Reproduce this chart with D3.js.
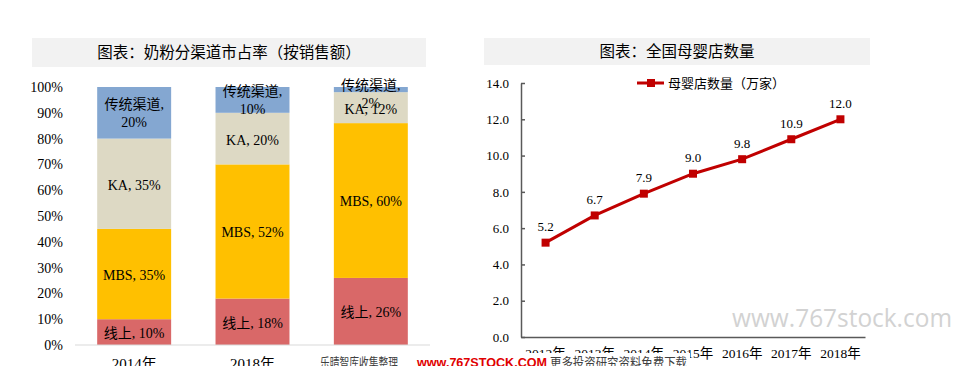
<!DOCTYPE html>
<html><head><meta charset="utf-8">
<script src="https://cdn.jsdelivr.net/npm/d3@7"></script>
<style>
html,body{margin:0;padding:0;background:#fff;}
svg{display:block;}
text{font-family:"Liberation Serif","Noto Sans CJK SC",serif;}
</style></head>
<body>
<svg id="c" width="953" height="366"></svg>
<script>
// ---- Left chart data ----
const leftTitle = "图表：奶粉分渠道市占率（按销售额）";
const years = ["2014年", "2018年", "2020年E"];
const channels = ["线上", "MBS", "KA", "传统渠道"];
const online = [10, 18, 26];
const mbs = [35, 52, 60];
const ka = [35, 20, 12];
const traditional = [20, 10, 2];
const pctTicks = [0, 10, 20, 30, 40, 50, 60, 70, 80, 90, 100];
const channelColors = ["#d96868", "#ffc000", "#ddd9c4", "#84a7d1"];

// ---- Right chart data ----
const rightTitle = "图表：全国母婴店数量";
const storeYears = ["2012年", "2013年", "2014年", "2015年", "2016年", "2017年", "2018年"];
const storeCount = [5.2, 6.7, 7.9, 9.0, 9.8, 10.9, 12.0];
const storeTicks = [0, 2, 4, 6, 8, 10, 12, 14];
const legendLabel = "母婴店数量（万家）";

const svg = d3.select("#c");

// ================= LEFT =================
svg.append("rect").attr("x", 32).attr("y", 38).attr("width", 394).attr("height", 29).attr("fill", "#f2f2f2");
svg.append("text").attr("x", 229).attr("y", 53).attr("dy", "0.35em").attr("text-anchor", "middle")
  .style("font-size", "15.5px").style("fill", "#000").text(leftTitle);

const x1 = d3.scaleBand().domain(years).range([75, 430]).paddingInner(0.375).paddingOuter(0.1875);
const y1 = d3.scaleLinear().domain([0, 100]).range([345, 87]);

const series = [online, mbs, ka, traditional];
const rows = years.map((yr, i) => {
  const r = { year: yr };
  channels.forEach((c, j) => r[c] = series[j][i]);
  return r;
});
const stacked = d3.stack().keys(channels)(rows);

const gBars = svg.append("g");
stacked.forEach((layer, j) => {
  gBars.selectAll(null).data(layer).enter().append("rect")
    .attr("x", d => x1(d.data.year))
    .attr("width", x1.bandwidth())
    .attr("y", d => y1(d[1]))
    .attr("height", d => y1(d[0]) - y1(d[1]))
    .attr("fill", channelColors[j]);
});

// baseline
svg.append("line").attr("x1", 75).attr("x2", 430).attr("y1", y1(0)).attr("y2", y1(0))
  .attr("stroke", "#d9d9d9").attr("stroke-width", 1);

// y tick labels
svg.append("g").selectAll("text").data(pctTicks).enter().append("text")
  .attr("x", 63).attr("y", d => y1(d)).attr("dy", "0.35em").attr("text-anchor", "end")
  .style("font-size", "14px").style("fill", "#000").text(d => d + "%");

// x labels
svg.append("g").selectAll("text").data(years).enter().append("text")
  .attr("x", d => x1(d) + x1.bandwidth() / 2).attr("y", 364).attr("dy", "0.35em")
  .attr("text-anchor", "middle").style("font-size", "15px").style("fill", "#000").text(d => d);

// data labels
const gLab = svg.append("g");
stacked.forEach((layer, j) => {
  layer.forEach(d => {
    const cx = x1(d.data.year) + x1.bandwidth() / 2;
    const val = d.data[channels[j]];
    if (channels[j] === "传统渠道") {
      const cy = Math.max((y1(d[0]) + y1(d[1])) / 2, y1(100) + 7);
      gLab.append("text").attr("x", cx).attr("y", cy - 9).attr("dy", "0.35em").attr("text-anchor", "middle")
        .style("font-size", "14px").style("fill", "#000").text(channels[j] + ",");
      gLab.append("text").attr("x", cx).attr("y", cy + 9.5).attr("dy", "0.35em").attr("text-anchor", "middle")
        .style("font-size", "14px").style("fill", "#000").text(val + "%");
    } else {
      const cy = (y1(d[0]) + y1(d[1])) / 2;
      gLab.append("text").attr("x", cx).attr("y", cy + 1).attr("dy", "0.35em").attr("text-anchor", "middle")
        .style("font-size", "14px").style("fill", "#000").text(channels[j] + ", " + val + "%");
    }
  });
});

// ================= RIGHT =================
svg.append("rect").attr("x", 484).attr("y", 38).attr("width", 386).attr("height", 27).attr("fill", "#f2f2f2");
svg.append("text").attr("x", 677).attr("y", 52).attr("dy", "0.35em").attr("text-anchor", "middle")
  .style("font-size", "15.5px").style("fill", "#000").text(rightTitle);

const x2 = d3.scaleBand().domain(storeYears).range([521, 865]);
const y2 = d3.scaleLinear().domain([0, 14]).range([337, 83]);

const yAxis = d3.axisLeft(y2).tickValues(storeTicks).tickFormat(d3.format(".1f")).tickSizeInner(-4).tickSizeOuter(0).tickPadding(12);
const gy = svg.append("g").attr("transform", "translate(521,0)").call(yAxis);
gy.select(".domain").attr("stroke", "#595959").attr("stroke-width", 1.5);
gy.selectAll(".tick line").attr("stroke", "#595959").attr("stroke-width", 1.5);
gy.selectAll(".tick text").style("font-size", "13px").style("font-family", '"Liberation Serif",serif').style("fill", "#000");

const xAxis = d3.axisBottom(x2).tickSize(0).tickSizeOuter(0).tickPadding(11);
const gx = svg.append("g").attr("transform", "translate(0,337)").call(xAxis);
gx.select(".domain").attr("stroke", "#595959").attr("stroke-width", 1.5);
gx.selectAll(".tick text").style("font-size", "13.5px").style("font-family", '"Liberation Serif","Noto Sans CJK SC",serif').style("fill", "#000");

const cxs = d => x2(d) + x2.bandwidth() / 2;
const line = d3.line().x((d, i) => cxs(storeYears[i])).y(d => y2(d));
svg.append("path").datum(storeCount).attr("d", line).attr("fill", "none").attr("stroke", "#c00000").attr("stroke-width", 3);
svg.append("g").selectAll("rect").data(storeCount).enter().append("rect")
  .attr("x", (d, i) => cxs(storeYears[i]) - 4).attr("y", d => y2(d) - 4)
  .attr("width", 8).attr("height", 8).attr("fill", "#c00000");
svg.append("g").selectAll("text").data(storeCount).enter().append("text")
  .attr("x", (d, i) => cxs(storeYears[i])).attr("y", d => y2(d) - 16).attr("dy", "0.35em")
  .attr("text-anchor", "middle").style("font-size", "13px").style("fill", "#000").text(d => d3.format(".1f")(d));

// legend
svg.append("line").attr("x1", 637).attr("x2", 664).attr("y1", 83).attr("y2", 83).attr("stroke", "#c00000").attr("stroke-width", 3);
svg.append("rect").attr("x", 647).attr("y", 79).attr("width", 8).attr("height", 8).attr("fill", "#c00000");
svg.append("text").attr("x", 668).attr("y", 83).attr("dy", "0.35em").style("font-size", "13px").style("fill", "#000").text(legendLabel);

// ================= WATERMARKS =================
svg.append("text").attr("x", 732).attr("y", 318).attr("dy", "0.35em")
  .attr("textLength", 220).attr("lengthAdjust", "spacingAndGlyphs")
  .style("font-family", '"Open Sans",sans-serif').style("font-size", "25px").style("fill", "#d2d2d2").text("www.767stock.com");

svg.append("rect").attr("x", 316).attr("y", 353).attr("width", 374).attr("height", 13).attr("fill", "#fff");
svg.append("text").attr("x", 320).attr("y", 362).attr("dy", "0.35em")
  .attr("textLength", 78).attr("lengthAdjust", "spacingAndGlyphs")
  .style("font-size", "13px").style("font-family", '"Noto Sans CJK SC",sans-serif').style("fill", "#404040")
  .text("乐晴智库收集整理");
svg.append("text").attr("x", 417).attr("y", 362).attr("dy", "0.35em")
  .attr("textLength", 130).attr("lengthAdjust", "spacingAndGlyphs")
  .style("font-size", "13px").style("font-weight", "bold").style("font-family", '"Liberation Sans",sans-serif').style("fill", "#e00000")
  .text("www.767STOCK.COM");
svg.append("text").attr("x", 550).attr("y", 362).attr("dy", "0.35em")
  .attr("textLength", 137).attr("lengthAdjust", "spacingAndGlyphs")
  .style("font-size", "13px").style("font-family", '"Noto Sans CJK SC",sans-serif').style("fill", "#404040")
  .text("更多投资研究资料免费下载");
</script>
</body></html>
